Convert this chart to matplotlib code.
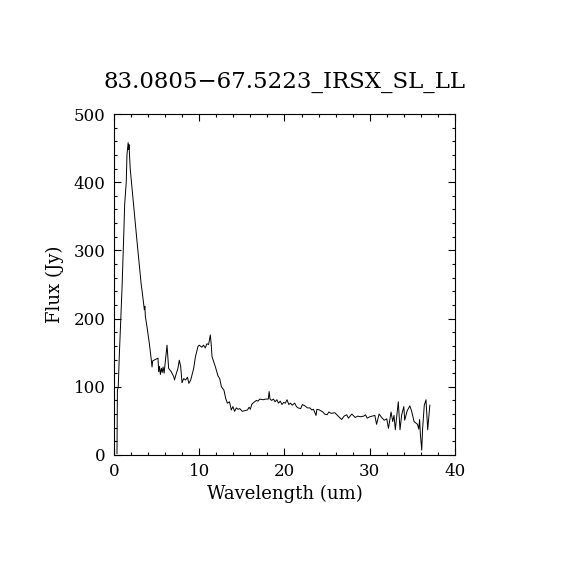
#!/usr/bin/env python3
"""Recreate the IRS SL+LL spectrum plot (flux vs wavelength)."""
import matplotlib

matplotlib.use("Agg")
import matplotlib.pyplot as plt
from matplotlib.ticker import MultipleLocator

TITLE = "83.0805\u221267.5223_IRSX_SL_LL"

# wavelength (um)
wavelength = [
    0.35, 0.40, 0.50, 0.62, 0.80, 0.94, 1.06, 1.17, 1.25, 1.44,
    1.52, 1.66, 1.72, 1.76, 1.80, 1.90, 2.19, 2.43, 2.70, 2.97,
    3.20, 3.28, 3.48, 3.56, 3.62, 3.68, 3.87, 4.14, 4.38, 4.46,
    4.54, 5.16, 5.24, 5.34, 5.44, 5.56, 5.66, 5.76, 5.88, 6.22,
    6.41, 6.72, 7.00, 7.10, 7.25, 7.50, 7.66, 7.82, 7.98, 8.17,
    8.40, 8.62, 8.78, 9.00, 9.35, 9.55, 9.85, 10.0, 10.3, 10.5,
    10.7, 10.9, 11.1, 11.3, 11.4, 11.5, 11.9, 12.2, 12.4, 12.6,
    12.9, 13.1, 13.3, 13.55, 13.76, 13.95, 14.15, 14.35, 14.55, 14.75,
    15.05, 15.35, 15.65, 15.85, 16.0, 16.15, 16.3, 16.5, 16.7, 16.9,
    17.1, 17.5, 17.8, 18.1, 18.2, 18.3, 18.5, 18.7, 18.9, 19.1,
    19.3, 19.5, 19.7, 19.9, 20.1, 20.3, 20.5, 20.7, 20.9, 21.2,
    21.4, 21.6, 21.9, 22.1, 22.4, 22.7, 23.0, 23.2, 23.4, 23.7,
    23.8, 24.1, 24.5, 24.7, 25.0, 25.2, 25.5, 25.9, 26.3, 26.7,
    27.0, 27.3, 27.5, 27.9, 28.3, 28.6, 28.9, 29.3, 29.5, 29.7,
    30.0, 30.3, 30.6, 30.8, 31.1, 31.4, 31.7, 32.0, 32.2, 32.5,
    32.7, 32.85, 33.0, 33.2, 33.35, 33.55, 33.75, 34.0, 34.1, 34.4,
    34.7, 34.9, 35.2, 35.4, 35.6, 35.75, 35.85, 35.95, 36.1, 36.2,
    36.4, 36.6, 36.8, 37.0, 37.05,
]

# flux (Jy)
flux = [
    2, 95, 100, 145, 200, 244, 288, 333, 367, 401,
    440, 458, 448, 455, 445, 420, 381, 347, 313, 279,
    249, 242, 222, 213, 218, 203, 188, 164, 139, 129,
    138, 142, 122, 130, 118, 127, 121, 129, 120, 161,
    127, 122, 115, 110, 117, 127, 139, 130, 106, 112,
    110, 114, 105, 110, 127, 144, 159, 161, 158, 161,
    157, 163, 162, 176, 163, 144, 129, 116, 112, 100,
    95, 83, 76, 78, 66, 71, 64, 69, 67, 68,
    64, 65, 66, 70, 67, 74, 76, 78, 80, 79,
    82, 81, 82, 82, 93, 82, 80, 82, 78, 81,
    76, 79, 74, 77, 76, 81, 74, 76, 73, 76,
    71, 69, 68, 74, 72, 69, 69, 66, 67, 58,
    67, 66, 63, 60, 59, 63, 61, 62, 57, 52,
    57, 59, 54, 60, 55, 57, 56, 57, 59, 54,
    56, 57, 58, 45, 60, 55, 51, 53, 39, 63,
    49, 58, 37, 60, 78, 37, 59, 71, 51, 65,
    72, 65, 49, 47, 45, 38, 52, 29, 7, 38,
    73, 81, 37, 66, 73,
]

XLIM = (0, 40)
YLIM = (0, 500)

plt.rcParams["font.family"] = ["DejaVu Serif"]

fig = plt.figure(figsize=(5.7, 5.7), dpi=100)
ax = fig.add_axes([0.2, 0.2018, 0.5982, 0.5982])

ax.plot(wavelength, flux, color="black", linewidth=0.7)

ax.set_xlim(*XLIM)
ax.set_ylim(*YLIM)
ax.xaxis.set_major_locator(MultipleLocator(10))
ax.xaxis.set_minor_locator(MultipleLocator(2))
ax.yaxis.set_major_locator(MultipleLocator(100))
ax.yaxis.set_minor_locator(MultipleLocator(20))
ax.tick_params(which="both", direction="in", top=True, right=True,
               width=0.8, color="black")
ax.tick_params(which="major", length=5)
ax.tick_params(which="minor", length=2.5)
ax.tick_params(axis="x", labelsize=12, pad=6)
ax.tick_params(axis="y", labelsize=12, pad=6)
for sp in ax.spines.values():
    sp.set_linewidth(0.8)

ax.set_xlabel("Wavelength (um)", fontsize=13, labelpad=3)
ax.set_ylabel("Flux (Jy)", fontsize=13, labelpad=7)
ax.set_title(TITLE, fontsize=16.5, pad=19)

fig.savefig("out.png", dpi=100)
